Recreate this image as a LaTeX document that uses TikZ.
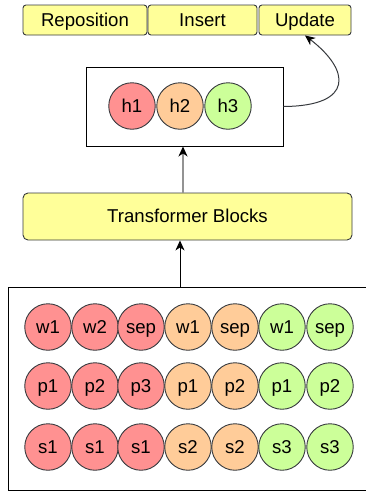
\documentclass[tikz,border=0pt]{standalone}
\usepackage{fontspec}
\setmainfont{Liberation Sans}
\usetikzlibrary{arrows.meta,calc}
\definecolor{tokred}{HTML}{FF9191}
\definecolor{tokorange}{HTML}{FFCC99}
\definecolor{tokgreen}{HTML}{CCFF99}
\definecolor{boxyellow}{HTML}{FFFF99}
\definecolor{edge}{HTML}{36393D}
\tikzset{
  lbl/.style={font=\fontsize{18.6}{20}\selectfont, text height=16.8pt, text depth=3.9pt},
  opbox/.style={lbl, draw=edge, fill=boxyellow, line width=0.9pt, rounded corners=3pt,
    inner sep=0pt, minimum height=30pt},
  token/.style={lbl, circle, draw=edge, line width=0.9pt, inner sep=0pt, minimum size=46.5pt},
  frame/.style={draw=black, line width=0.9pt, inner sep=0pt},
  tip/.style={-{Stealth[length=10pt,width=9pt,inset=3pt,black]}, line width=1pt},
}
\begin{document}
\begin{tikzpicture}[x=1pt,y=-1pt]
\useasboundingbox (0,0) rectangle (365,491);

% operation boxes
\node[opbox, minimum width=124pt] (repo) at (85,20) {Reposition};
\node[opbox, minimum width=109pt] (ins) at (202.5,20) {Insert};
\node[opbox, minimum width=92pt] (upd) at (305,20) {Update};

% hidden states
\node[frame, minimum width=197pt, minimum height=79pt] (mid) at (184.5,106.5) {};
\node[token, fill=tokred] (h1) at (132,106) {h1};
\node[token, fill=tokorange] (h2) at (180,106) {h2};
\node[token, fill=tokgreen] (h3) at (228,106) {h3};

% encoder
\node[opbox, rounded corners=5pt, minimum width=329pt, minimum height=47pt] (tb) at (187.5,216.5) {Transformer Blocks};

% input embeddings
\node[frame, minimum width=358pt, minimum height=203pt] (inp) at (187,388.5) {};
\foreach \x/\c/\w/\p/\s [count=\i] in {
  48/tokred/w1/p1/s1, 95/tokred/w2/p2/s1, 141/tokred/sep/p3/s1,
  188/tokorange/w1/p1/s2, 235/tokorange/sep/p2/s2,
  282/tokgreen/w1/p1/s3, 330/tokgreen/sep/p2/s3} {
  \node[token, fill=\c] (w\i) at (\x,327) {\w};
  \node[token, fill=\c] (p\i) at (\x,386) {\p};
  \node[token, fill=\c] (s\i) at (\x,447) {\s};
}

% connectors
\coordinate (ca) at (180,0);
\coordinate (cb) at (183,0);
\draw[tip, draw=black] (inp.north -| ca) -- (tb.south -| ca);
\draw[tip, draw=gray!85, line width=1.4pt] (tb.north -| cb) -- (mid.south -| cb);
\draw[tip, draw=edge] (mid.east) .. controls (355,106) and (350,70) .. (upd.south);
\end{tikzpicture}
\end{document}
